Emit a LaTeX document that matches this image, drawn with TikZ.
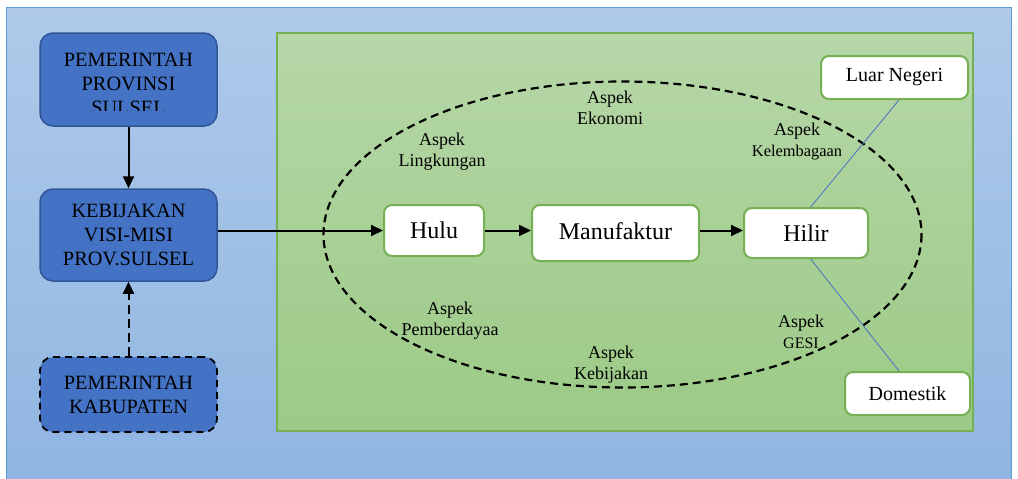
\documentclass[tikz,border=0pt]{standalone}
\usepackage{fontspec}
\setmainfont{Liberation Serif}
\newfontfamily\serifface{Liberation Serif}
\usetikzlibrary{arrows.meta,calc}

\definecolor{bgtop}{HTML}{AFCAEA}
\definecolor{bgbot}{HTML}{90B5E1}
\definecolor{bgedge}{HTML}{5B9BD5}
\definecolor{grtop}{HTML}{B6D7A8}
\definecolor{grbot}{HTML}{9CCA86}
\definecolor{gredge}{HTML}{76B055}
\definecolor{boxblue}{HTML}{4472C4}
\definecolor{boxedge}{HTML}{2F5597}
\definecolor{linkblue}{HTML}{4472C4}

\tikzset{
  govbox/.style={draw=boxedge, line width=1.5pt, fill=boxblue, rounded corners=13pt,
    minimum width=177pt, inner sep=0pt, align=center,
    font=\serifface\fontsize{20.3}{24}\selectfont},
  govtext/.style={inner sep=0pt, align=center, font=\serifface\fontsize{20.3}{24}\selectfont},
  flowbox/.style={draw=gredge, line width=2pt, fill=white, rounded corners=8pt,
    inner sep=0pt, font=\serifface\fontsize{24}{28}\selectfont},
  marketbox/.style={draw=gredge, line width=2pt, fill=white, rounded corners=8pt,
    inner sep=0pt, font=\serifface\fontsize{20}{24}\selectfont},
  aspect/.style={inner sep=0pt, align=center, font=\serifface\fontsize{18}{21}\selectfont},
  flow/.style={line width=2pt, -{Triangle[length=12pt,width=11pt]}},
  link/.style={draw=linkblue, line width=0.8pt},
}

\begin{document}
\begin{tikzpicture}[x=1pt,y=-1pt]
\useasboundingbox (0,0) rectangle (1018,479);

% page background panel
\shade[top color=bgtop, bottom color=bgbot] (6,7) rectangle (1011,479);
\draw[bgedge, line width=1pt] (6,479) -- (6,7) -- (1011,7) -- (1011,479);

% green value-chain area
\shade[top color=grtop, bottom color=grbot] (277,33) rectangle (973,431);
\draw[gredge, line width=1.3pt] (277,33) rectangle (973,431);

% government boxes
\node[govbox, minimum height=93pt] (prov) at (128.5,79.5) {};
\begin{scope}
  \clip (40,33) rectangle (217,110.5);
  \node[govtext] (provtext) at (128.5,84) {PEMERINTAH\\PROVINSI\\SULSEL};
\end{scope}
\node[govbox, minimum height=92pt] (keb) at (128.5,235) {\raisebox{-4pt}{\parbox{170pt}{\centering KEBIJAKAN\\VISI-MISI\\PROV.SULSEL}}};
\node[govbox, draw=black, dashed, dash pattern=on 7pt off 5pt, line width=1.8pt,
      minimum height=75pt] (kab) at (128.5,394.5) {PEMERINTAH\\KABUPATEN};

\draw[flow] (prov.south) -- (keb.north);
\draw[flow, dash pattern=on 9pt off 5pt] (kab.north) -- (keb.south);

% dashed ring of aspects
\draw[line width=2.2pt, dash pattern=on 8pt off 5pt] (622.5,234.5) ellipse [x radius=299, y radius=153];

% value chain
\node[flowbox, minimum width=100pt, minimum height=51pt] (hulu) at (434,230.5) {Hulu};
\node[flowbox, minimum width=167pt, minimum height=56pt] (manuf) at (615.5,233) {\raisebox{3pt}{Manufaktur}};
\node[flowbox, minimum width=124pt, minimum height=50pt] (hilir) at (806,233) {Hilir};

\draw[flow] (keb.east |- hulu.west) -- (hulu.west);
\draw[flow] (hulu.east) -- (manuf.west |- hulu.east);
\draw[flow] (manuf.east |- hulu.east) -- (hilir.west |- hulu.east);

% markets
\node[marketbox, minimum width=147pt, minimum height=43pt] (luar) at (894.5,77.5) {Luar Negeri};
\node[marketbox, minimum width=125pt, minimum height=43pt] (dom) at (907.5,393.5) {Domestik};

\draw[link] ([xshift=4.7pt]hilir.north) -- ([xshift=4.5pt]luar.south);
\draw[link] ([xshift=4.7pt]hilir.south) -- ([xshift=-8.5pt]dom.north);

% aspect labels
\node[aspect] (ekonomi) at (610,108) {Aspek\\Ekonomi};
\node[aspect] (lingkungan) at (442,151.5) {Aspek\\Lingkungan};
\node[aspect] (kelembagaan) at (797,142) {Aspek\\{\fontsize{16.4}{20}\selectfont Kelembagaan}};
\node[aspect] (pemberdayaan) at (450,320.5) {Aspek\\Pemberdayaa};
\node[aspect] (kebijakan) at (611,365) {Aspek\\Kebijakan};
\node[aspect] (gesi) at (801,332) {Aspek\\{\fontsize{16}{20}\selectfont GESI}};
\end{tikzpicture}
\end{document}
